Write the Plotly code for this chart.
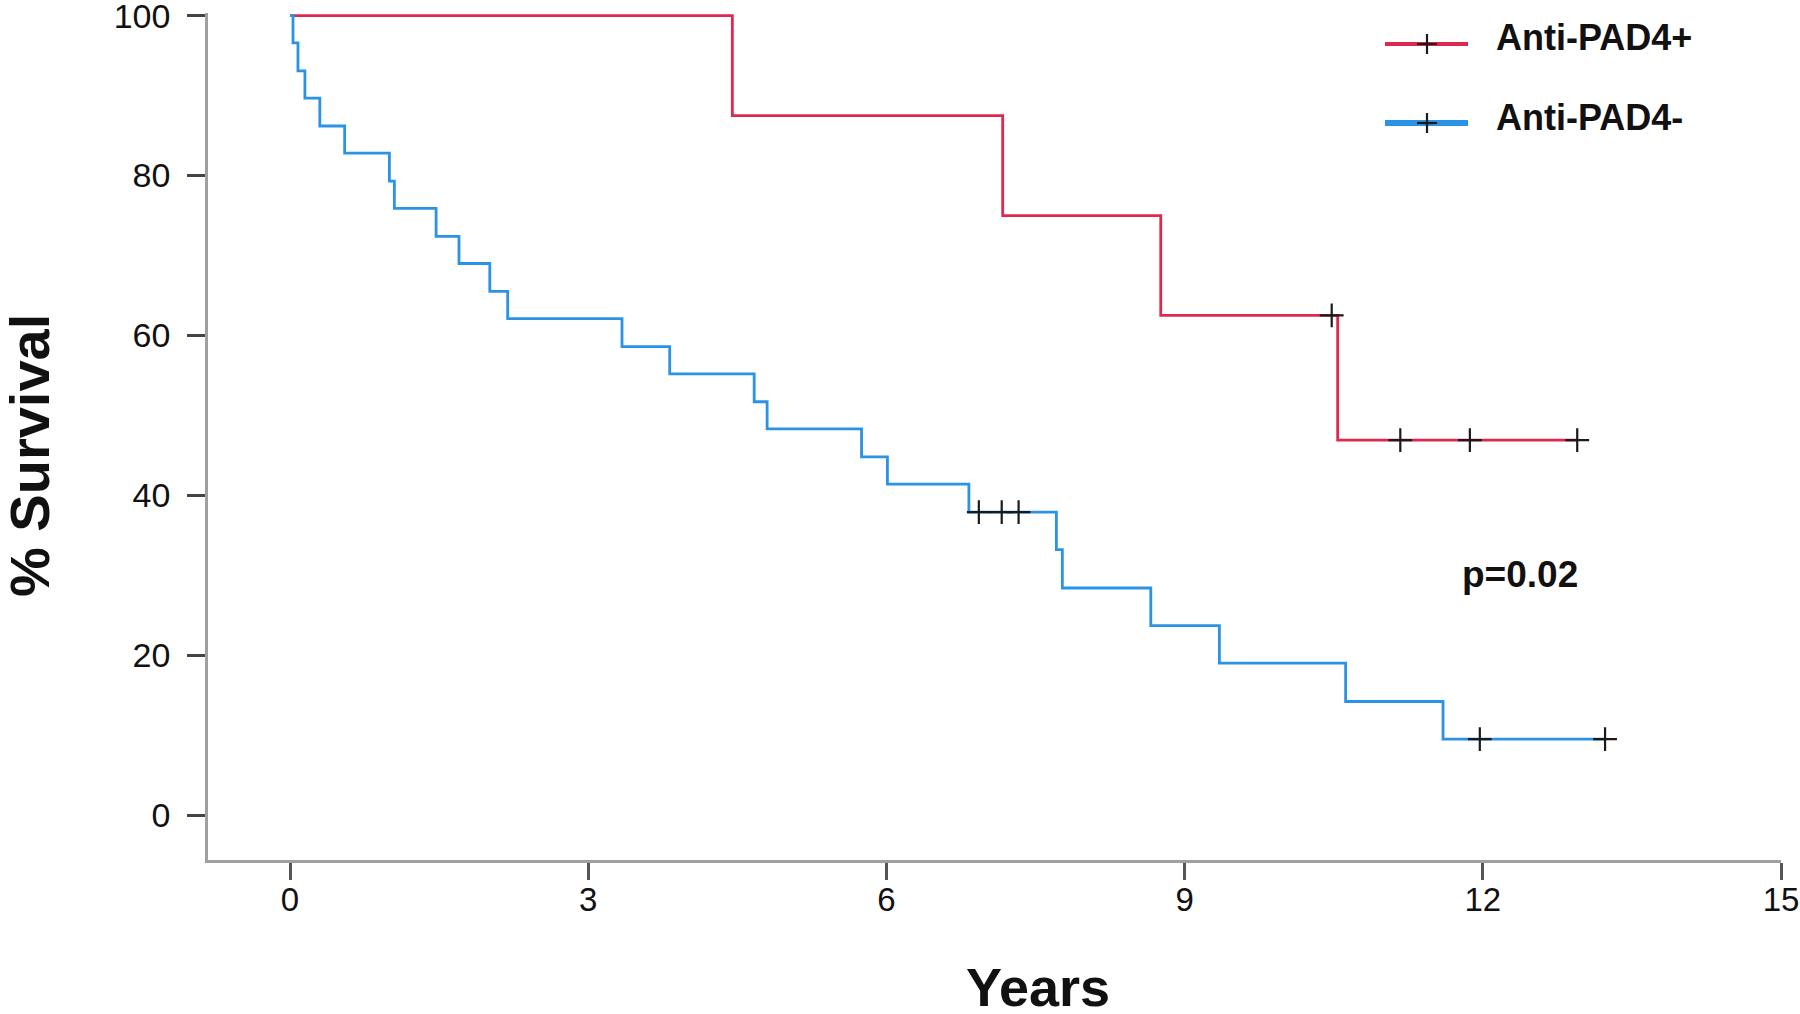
import plotly.graph_objects as go

# ---------------- data ----------------
series_names = ["Anti-PAD4+", "Anti-PAD4-"]

pos_step_times = [0.0, 4.45, 7.17, 8.76, 10.54]
pos_step_surv = [100.0, 87.5, 75.0, 62.5, 46.9]
pos_end_time = 12.95
pos_censor_times = [10.48, 11.17, 11.87, 12.95]
pos_censor_surv = [62.5, 46.9, 46.9, 46.9]

neg_step_times = [0.0, 0.03, 0.08, 0.15, 0.30, 0.55, 1.00, 1.05, 1.47, 1.70,
                  2.01, 2.19, 3.34, 3.82, 4.67, 4.80, 5.75, 6.01, 6.83, 7.71,
                  7.77, 8.66, 9.35, 10.62, 11.60]
neg_step_surv = [100.0, 96.6, 93.1, 89.7, 86.2, 82.8, 79.3, 75.9, 72.4, 69.0,
                 65.5, 62.1, 58.6, 55.2, 51.7, 48.3, 44.8, 41.4, 37.9, 33.2,
                 28.4, 23.7, 19.0, 14.2, 9.5]
neg_end_time = 13.23
neg_censor_times = [6.93, 7.16, 7.33, 11.97, 13.23]
neg_censor_surv = [37.9, 37.9, 37.9, 9.5, 9.5]

x_ticks = [0, 3, 6, 9, 12, 15]
y_ticks = [0, 20, 40, 60, 80, 100]
p_text = "p=0.02"
x_title = "Years"
y_title = "% Survival"

# ---------------- style ----------------
RED = "#E0284F"
BLUE = "#2B93E6"
FONT = "Liberation Sans, Arial, sans-serif"
W, H = 1800, 1014
ML, MR, MT, MB = 208, 19, 13, 154
PW, PH = W - ML - MR, H - MT - MB


def px2x(px):
    return (px - ML) / PW


def py2y(py):
    return (H - MB - py) / PH


fig = go.Figure()

for name, tt, ss, te, col in [
    (series_names[0], pos_step_times, pos_step_surv, pos_end_time, RED),
    (series_names[1], neg_step_times, neg_step_surv, neg_end_time, BLUE),
]:
    fig.add_trace(go.Scatter(
        x=list(tt) + [te], y=list(ss) + [ss[-1]],
        mode="lines", line=dict(color=col, width=2.8, shape="hv"),
        name=name, showlegend=False, hoverinfo="skip"))

for ct, cs in [(pos_censor_times, pos_censor_surv),
               (neg_censor_times, neg_censor_surv)]:
    fig.add_trace(go.Scatter(
        x=ct, y=cs, mode="markers", showlegend=False, cliponaxis=False,
        hoverinfo="skip",
        marker=dict(symbol="cross-thin", size=17,
                    line=dict(color="#1a1a1a", width=2.2))))

# ---------------- manual legend ----------------
shapes = []
annotations = []
legend_rows = [(series_names[0], RED, 44, 4), (series_names[1], BLUE, 123, 6)]
for name, col, ly, lw in legend_rows:
    shapes.append(dict(type="line", xref="paper", yref="paper",
                       x0=px2x(1385), x1=px2x(1468), y0=py2y(ly), y1=py2y(ly),
                       line=dict(color=col, width=lw)))
    cx, cy = 1427, ly
    shapes.append(dict(type="line", xref="paper", yref="paper",
                       x0=px2x(cx - 10), x1=px2x(cx + 10), y0=py2y(cy), y1=py2y(cy),
                       line=dict(color="#1a1a1a", width=2.2)))
    shapes.append(dict(type="line", xref="paper", yref="paper",
                       x0=px2x(cx), x1=px2x(cx), y0=py2y(cy - 10), y1=py2y(cy + 10),
                       line=dict(color="#1a1a1a", width=2.2)))
    annotations.append(dict(text=f"<b>{name}</b>", xref="paper", yref="paper",
                            x=px2x(1494), y=py2y(ly - 6), xanchor="left",
                            yanchor="middle", showarrow=False,
                            font=dict(family=FONT, size=36, color="#111")))

annotations.append(dict(text=f"<b>{p_text}</b>", xref="paper", yref="paper",
                        x=px2x(1520), y=py2y(574), xanchor="center",
                        yanchor="middle", showarrow=False,
                        font=dict(family=FONT, size=37, color="#111")))
annotations.append(dict(text=f"<b>{x_title}</b>", xref="paper", yref="paper",
                        x=px2x(1038), y=py2y(987), xanchor="center",
                        yanchor="middle", showarrow=False,
                        font=dict(family=FONT, size=54, color="#111")))
annotations.append(dict(text=f"<b>{y_title}</b>", xref="paper", yref="paper",
                        x=px2x(29), y=py2y(456), xanchor="center",
                        yanchor="middle", showarrow=False, textangle=-90,
                        font=dict(family=FONT, size=56, color="#111")))

fig.update_layout(
    width=W, height=H,
    margin=dict(l=ML, r=MR, t=MT, b=MB, autoexpand=False),
    paper_bgcolor="white", plot_bgcolor="white",
    showlegend=False, hovermode=False,
    shapes=shapes, annotations=annotations,
    font=dict(family=FONT, color="#111"),
)
fig.update_xaxes(
    range=[-0.825, 15], tickvals=x_ticks, ticktext=[str(v) for v in x_ticks],
    ticks="outside", ticklen=17, tickwidth=2.5, tickcolor="#555",
    showline=True, linecolor="#a0a0a0", linewidth=2.5,
    showgrid=False, zeroline=False, ticklabelstandoff=-8,
    ticklabeloverflow="allow",
    tickfont=dict(family=FONT, size=33, color="#111"))
fig.update_yaxes(
    range=[-5.63, 100.34], tickvals=y_ticks, ticktext=[str(v) for v in y_ticks],
    ticks="outside", ticklen=18, tickwidth=2.5, tickcolor="#444",
    showline=True, linecolor="#a0a0a0", linewidth=2.5,
    showgrid=False, zeroline=False, ticklabelstandoff=10,
    ticklabeloverflow="allow",
    tickfont=dict(family=FONT, size=34, color="#111"))

fig.write_html("out.html",
               config={"displayModeBar": False},
               post_script="document.body.style.margin='0';"
                           "document.body.style.overflow='hidden';")
